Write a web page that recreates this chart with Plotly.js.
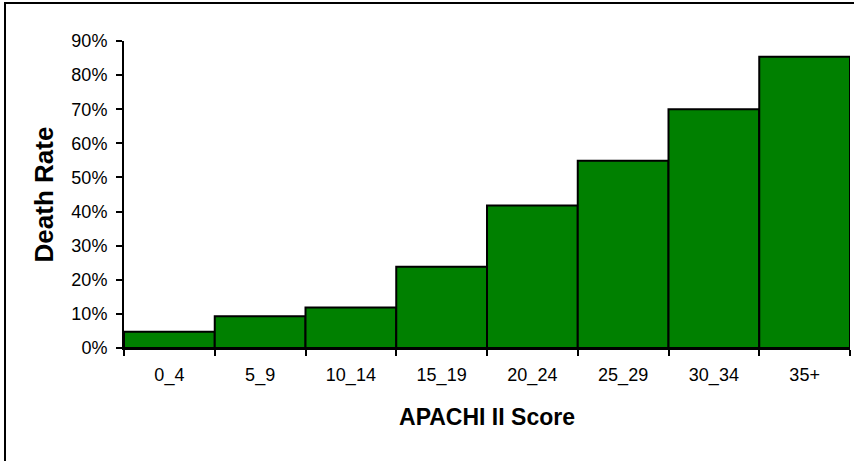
<!DOCTYPE html>
<html>
<head>
<meta charset="utf-8">
<script src="https://cdn.plot.ly/plotly-3.0.1.min.js"></script>
<style>
  html, body { margin: 0; padding: 0; background: #fff; overflow: hidden; }
  #wrap { position: relative; width: 854px; height: 461px; }
  #chart { width: 854px; height: 461px; }
  #frame { position: absolute; left: 4px; top: 2px; width: 900px; height: 457px; border: 2px solid #000; pointer-events: none; }
</style>
</head>
<body>
<div id="wrap">
  <div id="chart"></div>
  <div id="frame"></div>
</div>
<script>
const categories = ["0_4", "5_9", "10_14", "15_19", "20_24", "25_29", "30_34", "35+"];
const deathRate = [0.048, 0.093, 0.119, 0.238, 0.418, 0.549, 0.700, 0.854];
const xTitle = "APACHI II Score";
const yTitle = "Death Rate";

const trace = {
  type: "bar",
  x: categories,
  y: deathRate,
  marker: { color: "#008000", line: { color: "#000000", width: 2 } },
  hoverinfo: "x+y"
};

const layout = {
  width: 854,
  height: 461,
  margin: { l: 124, r: 4, t: 41, b: 113, pad: 0 },
  paper_bgcolor: "#ffffff",
  plot_bgcolor: "#ffffff",
  bargap: 0,
  showlegend: false,
  font: { family: "Liberation Sans, Arial, sans-serif", color: "#000000", size: 18 },
  xaxis: {
    type: "category",
    tickson: "boundaries",
    ticks: "outside",
    ticklen: 6,
    tickwidth: 2,
    tickcolor: "#000",
    showline: true,
    linecolor: "#000",
    linewidth: 2,
    showgrid: false,
    zeroline: false,
    ticklabelstandoff: 9,
    tickfont: { size: 18 },
    automargin: false,
    title: { text: xTitle, font: { size: 23, family: "Liberation Sans, Arial, sans-serif", weight: "bold" }, standoff: 24 }
  },
  yaxis: {
    range: [0, 0.9],
    dtick: 0.1,
    tick0: 0,
    tickformat: ".0%",
    ticks: "outside",
    ticklen: 6,
    tickwidth: 2,
    tickcolor: "#000",
    showline: true,
    linecolor: "#000",
    linewidth: 2,
    showgrid: false,
    zeroline: false,
    ticklabelstandoff: 5,
    tickfont: { size: 18 },
    automargin: false,
    title: { text: yTitle, font: { size: 26, family: "Liberation Sans, Arial, sans-serif", weight: "bold" }, standoff: 10 }
  }
};

Plotly.newPlot("chart", [trace], layout, { displayModeBar: false, staticPlot: true });
</script>
</body>
</html>
